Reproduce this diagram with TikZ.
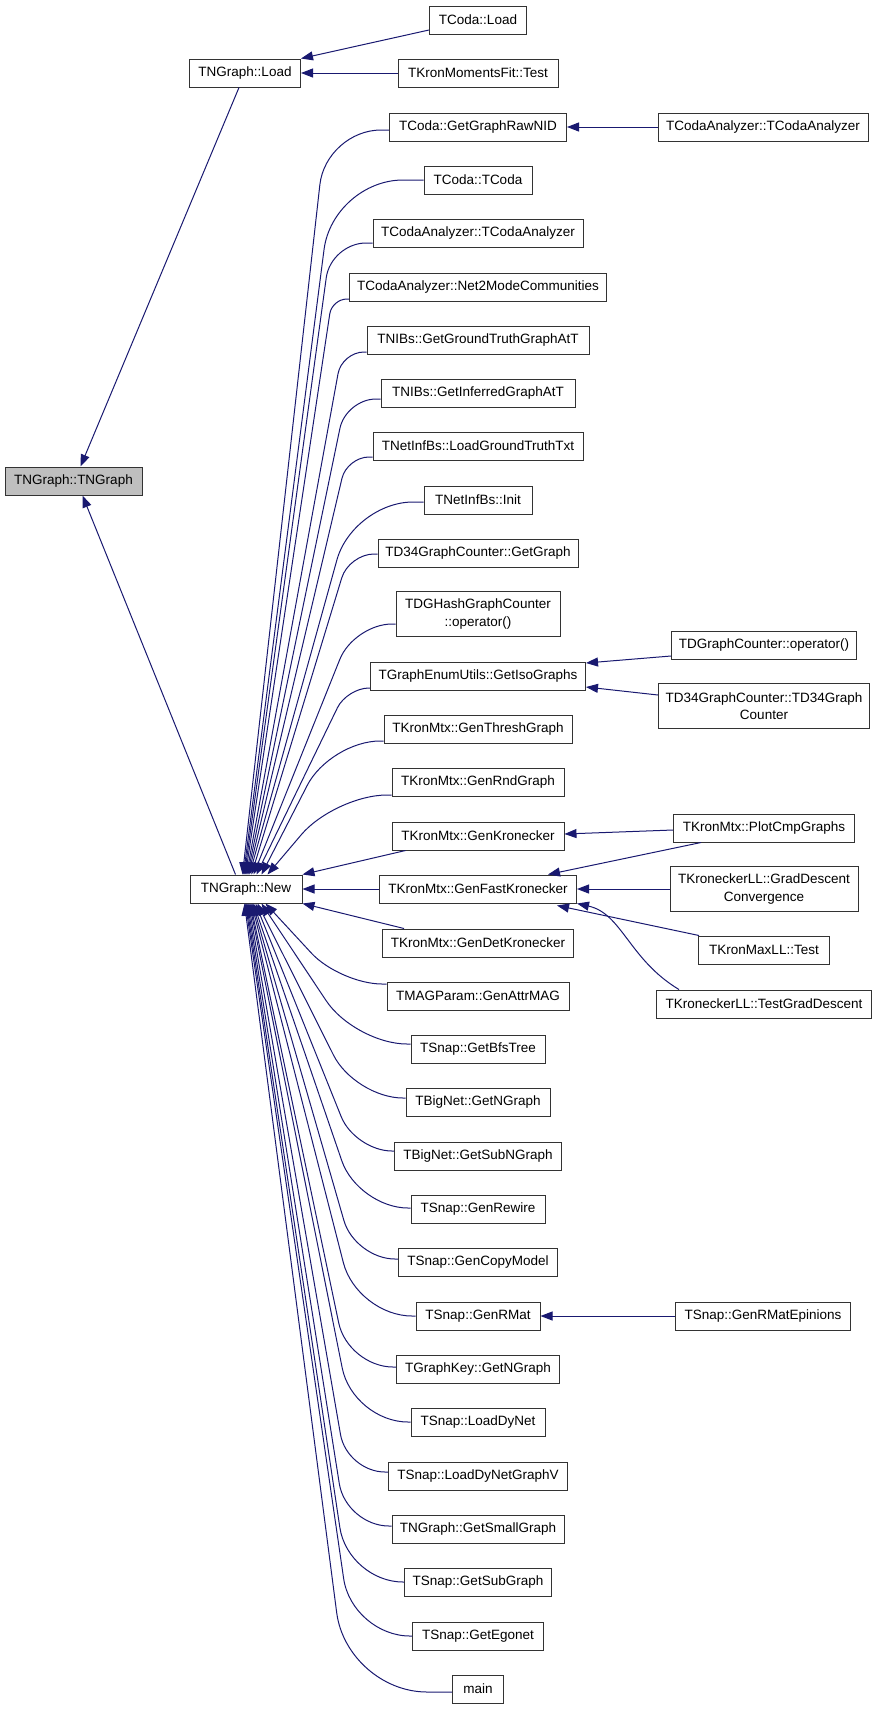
\documentclass[tikz,border=0pt]{standalone}
\usepackage{fontspec}
\newfontfamily\dxfont{Liberation Sans}
\usetikzlibrary{arrows.meta}
\definecolor{edgeblue}{HTML}{191970}
\tikzset{
  fn/.style={draw=black!80, line width=1pt, fill=white, minimum height=28pt,
    inner xsep=2pt, inner ysep=0pt, align=center,
    font=\dxfont\fontsize{13.5}{17.5}\selectfont},
  fntwo/.style={fn, minimum height=45pt},
  call/.style={draw=edgeblue, line width=1pt, arrows={Triangle[length=12pt,width=9pt]-}}
}
\begin{document}
\begin{tikzpicture}[x=1pt,y=1pt]
\useasboundingbox (0,0) rectangle (877,-1709);

\node[fn, fill=black!25, minimum width=137] (tngraph) at (73.5,-481) {TNGraph::TNGraph};
\node[fn, minimum width=111] (load) at (245,-73) {TNGraph::Load};
\node[fn, minimum width=112] (new) at (246,-889) {TNGraph::New};

\node[fn, minimum width=97] (codaload) at (478,-20) {TCoda::Load};
\node[fn, minimum width=160] (kronmomtest) at (478,-73) {TKronMomentsFit::Test};
\node[fn, minimum width=177] (rawnid) at (478,-127) {TCoda::GetGraphRawNID};
\node[fn, minimum width=108] (codactor) at (478,-180) {TCoda::TCoda};
\node[fn, minimum width=210] (anactor) at (478,-233) {TCodaAnalyzer::TCodaAnalyzer};
\node[fn, minimum width=257] (net2mode) at (478,-287) {TCodaAnalyzer::Net2ModeCommunities};
\node[fn, minimum width=222] (groundtruth) at (478,-340) {TNIBs::GetGroundTruthGraphAtT};
\node[fn, minimum width=194] (inferred) at (478,-393) {TNIBs::GetInferredGraphAtT};
\node[fn, minimum width=210] (loadgt) at (478,-446) {TNetInfBs::LoadGroundTruthTxt};
\node[fn, minimum width=108] (netinit) at (478,-500) {TNetInfBs::Init};
\node[fn, minimum width=200] (d34get) at (478,-553) {TD34GraphCounter::GetGraph};
\node[fntwo, minimum width=164] (dghash) at (478,-614) {TDGHashGraphCounter\\::operator()};
\node[fn, minimum width=215] (iso) at (478,-676) {TGraphEnumUtils::GetIsoGraphs};
\node[fn, minimum width=188] (thresh) at (478,-729) {TKronMtx::GenThreshGraph};
\node[fn, minimum width=172] (rnd) at (478,-782) {TKronMtx::GenRndGraph};
\node[fn, minimum width=172] (genkron) at (478,-836) {TKronMtx::GenKronecker};
\node[fn, minimum width=197] (fastkron) at (478,-889) {TKronMtx::GenFastKronecker};
\node[fn, minimum width=191] (detkron) at (478,-943) {TKronMtx::GenDetKronecker};
\node[fn, minimum width=182] (attrmag) at (478,-996) {TMAGParam::GenAttrMAG};
\node[fn, minimum width=134] (bfstree) at (478,-1049) {TSnap::GetBfsTree};
\node[fn, minimum width=144] (bignetn) at (478,-1102) {TBigNet::GetNGraph};
\node[fn, minimum width=167] (bignetsub) at (478,-1156) {TBigNet::GetSubNGraph};
\node[fn, minimum width=134] (rewire) at (478,-1209) {TSnap::GenRewire};
\node[fn, minimum width=159] (copymodel) at (478,-1262) {TSnap::GenCopyModel};
\node[fn, minimum width=124] (rmat) at (478,-1316) {TSnap::GenRMat};
\node[fn, minimum width=163] (graphkey) at (478,-1369) {TGraphKey::GetNGraph};
\node[fn, minimum width=134] (loaddynet) at (478,-1422) {TSnap::LoadDyNet};
\node[fn, minimum width=179] (loaddynetv) at (478,-1476) {TSnap::LoadDyNetGraphV};
\node[fn, minimum width=172] (smallgraph) at (478,-1529) {TNGraph::GetSmallGraph};
\node[fn, minimum width=147] (subgraph) at (478,-1582) {TSnap::GetSubGraph};
\node[fn, minimum width=131] (egonet) at (478,-1636) {TSnap::GetEgonet};
\node[fn, minimum width=51] (main) at (478,-1689) {main};

\node[fn, minimum width=210] (anactorr) at (763,-127) {TCodaAnalyzer::TCodaAnalyzer};
\node[fn, minimum width=185] (dgraphop) at (764,-645) {TDGraphCounter::operator()};
\node[fntwo, minimum width=211] (d34ctor) at (764,-706) {TD34GraphCounter::TD34Graph\\Counter};
\node[fn, minimum width=181] (plotcmp) at (764,-828) {TKronMtx::PlotCmpGraphs};
\node[fntwo, minimum width=188] (graddesc) at (764,-889) {TKroneckerLL::GradDescent\\Convergence};
\node[fn, minimum width=131] (maxll) at (764,-950) {TKronMaxLL::Test};
\node[fn, minimum width=215] (testgrad) at (764,-1004) {TKroneckerLL::TestGradDescent};
\node[fn, minimum width=175] (rmatepinions) at (763,-1316) {TSnap::GenRMatEpinions};

\draw[call] ([xshift=7pt]tngraph.north) -- ([xshift=50pt]load.south west);
\draw[call] ([xshift=9pt]tngraph.south) -- ([xshift=46pt]new.north west);
\draw[call] (load.north east) -- ([yshift=-10pt]codaload.west);
\draw[call] (load.east) -- (kronmomtest.west);
\draw[call] (rawnid.east) -- (anactorr.west);
\draw[call] ([yshift=13pt]iso.east) -- ([yshift=-11pt]dgraphop.west);
\draw[call] ([yshift=-11pt]iso.east) -- ([yshift=11pt]d34ctor.west);
\draw[call] ([yshift=2pt]genkron.east) -- ([yshift=-2pt]plotcmp.west);
\draw[call] ([xshift=-29pt]fastkron.north east) -- ([xshift=28pt]plotcmp.south west);
\draw[call] (fastkron.east) -- (graddesc.west);
\draw[call] ([xshift=-20pt,yshift=-2pt]fastkron.south east) -- ([xshift=1pt]maxll.north west);
\draw[call] (fastkron.south east) .. controls +(45,-10) and +(-50,30) .. ([xshift=23pt]testgrad.north west);
\draw[call] (rmat.east) -- (rmatepinions.west);
\draw[call] (new.east) -- (fastkron.west);
\draw[call] (new.north east) -- ([xshift=14pt]genkron.south west);
\draw[call] (new.south east) -- ([xshift=22pt]detkron.north west);

% callers above TNGraph::New
\foreach \c/\ex/\dy/\cx/\r in {rawnid/53/-3/326/55, codactor/54/0/333/70,
    anactor/55/-10/331/35, net2mode/56/-12/332/15, groundtruth/57/-12/342/22,
    inferred/58/-6/346/30, loadgt/59/-11/347/22, netinit/60/-2/353/60,
    d34get/62/-1/349/25, dghash/64/-10/354/38, iso/67/-12/347/22,
    thresh/72/-12/330/50, rnd/78/-13/335/52}{
  \coordinate (s) at ([yshift=\dy pt]\c.west);
  \draw[call, rounded corners=\r pt] ([xshift=\ex pt]new.north west) -- (s -| \cx,0) -- (s);
}

% callers below TNGraph::New
\foreach \c/\ex/\dy/\cx/\r in {attrmag/76/12/340/42, bfstree/72/5/355/52,
    bignetn/68/4/355/48, bignetsub/66/5/355/37, rewire/64/1/358/50,
    copymodel/63/3/355/40, rmat/62/0/357/55, graphkey/61/2/348/45,
    loaddynet/60/0/353/55, loaddynetv/59/4/347/38, smallgraph/58/3/346/43,
    subgraph/57/0/348/55, egonet/56/0/352/58, main/55/-3/347/80}{
  \coordinate (s) at ([yshift=\dy pt]\c.west);
  \draw[call, rounded corners=\r pt] ([xshift=\ex pt]new.south west) -- (s -| \cx,0) -- (s);
}
\end{tikzpicture}
\end{document}
